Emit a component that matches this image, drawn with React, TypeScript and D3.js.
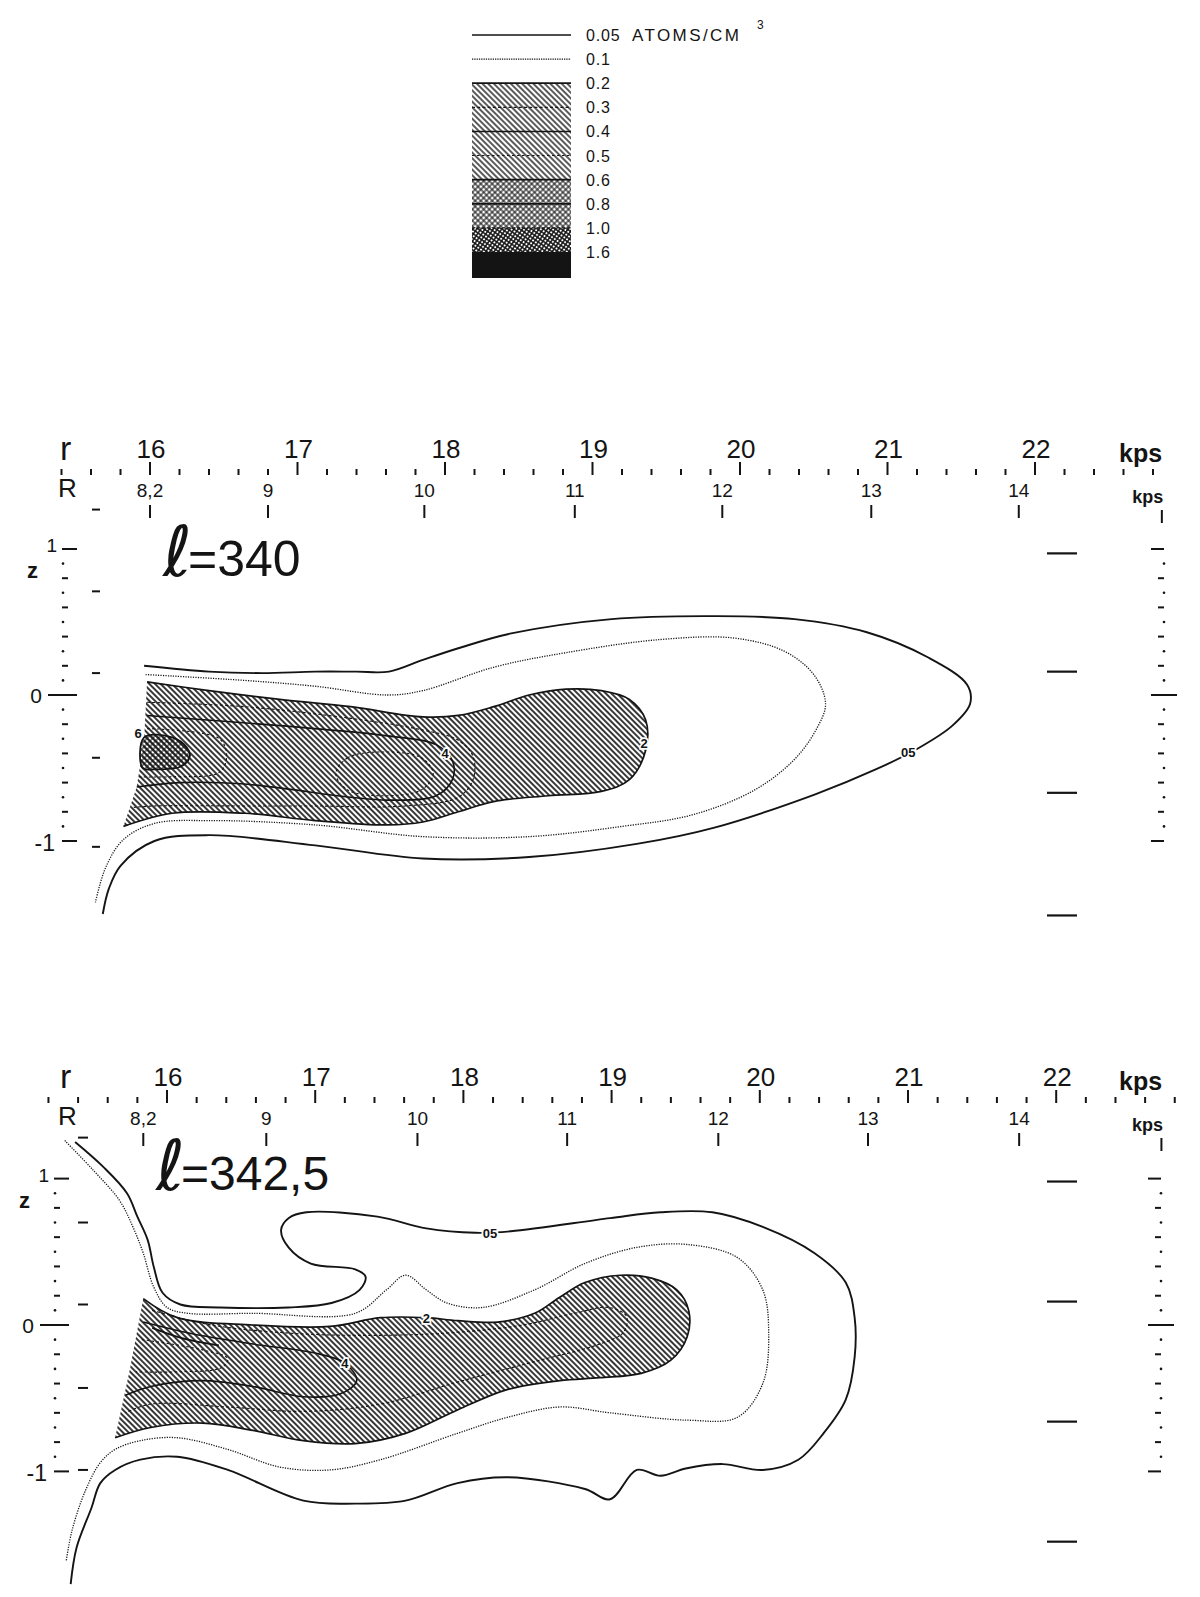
import * as d3 from "d3"

type Pt = [number, number]

// legend rows, atoms / cm3
const legendLevels = ["0.05", "0.1", "0.2", "0.3", "0.4", "0.5", "0.6", "0.8", "1.0", "1.6"]

// r scale (kpc) and the R scale labels, R positions read in r on each panel
const rMajorTicks = [16, 17, 18, 19, 20, 21, 22]
const RLabels = ["8,2", "9", "10", "11", "12", "13", "14"]
const RAt340 = [16.0, 16.8, 17.86, 18.88, 19.88, 20.89, 21.89]
const RAt3425 = [15.84, 16.67, 17.69, 18.7, 19.72, 20.73, 21.75]

// the odd tick columns at the sides, in z (kpc)
const zOuterLeft340 = [1.27, 0.71, 0.15, -0.43, -1.04]
const zOuterLeft3425 = [1.28, 0.7, 0.14, -0.43, -0.99]
const zRightMid340 = [0.97, 0.16, -0.67, -1.51]
const zRightMid3425 = [0.98, 0.16, -0.66, -1.48]

// ---- l = 340 contours, [r, z] ----
const outer340: Pt[] = [[15.96,0.2],[16.4,0.16],[16.76,0.15],[17.12,0.16],[17.4,0.16],[17.62,0.16],[17.85,0.24],[18.09,0.32],[18.44,0.42],[19.13,0.52],[19.82,0.54],[20.37,0.52],[20.86,0.43],[21.27,0.26],[21.54,0.07],[21.56,-0.06],[21.44,-0.21],[21.2,-0.37],[20.92,-0.51],[20.51,-0.68],[19.82,-0.91],[19.3,-1.02],[18.57,-1.11],[17.85,-1.12],[17.12,-1.03],[16.4,-0.96],[16.03,-1.0],[15.8,-1.17],[15.72,-1.33],[15.68,-1.5]]
const dotted340: Pt[] = [[15.97,0.14],[16.64,0.1],[17.12,0.06],[17.61,0.0],[17.85,0.03],[18.33,0.19],[18.82,0.29],[19.46,0.38],[19.96,0.39],[20.3,0.3],[20.5,0.14],[20.58,-0.06],[20.52,-0.23],[20.37,-0.44],[20.1,-0.65],[19.68,-0.82],[19.2,-0.9],[18.57,-0.97],[17.85,-0.97],[17.12,-0.89],[16.4,-0.86],[16.03,-0.88],[15.82,-0.99],[15.7,-1.18],[15.63,-1.42]]
const hatch340: Pt[] = [[15.98,0.09],[16.4,0.03],[16.88,-0.03],[17.36,-0.08],[17.85,-0.15],[18.09,-0.14],[18.33,-0.08],[18.57,0.0],[18.82,0.04],[19.06,0.03],[19.25,-0.03],[19.36,-0.17],[19.36,-0.38],[19.25,-0.58],[19.06,-0.66],[18.7,-0.69],[18.33,-0.73],[18.09,-0.8],[17.85,-0.87],[17.61,-0.89],[17.12,-0.86],[16.64,-0.81],[16.15,-0.81],[15.82,-0.9]]
const hatchEdge340: Pt[] = [[15.91,-0.63],[15.96,-0.31]]
const c03_340: Pt[] = [[15.98,-0.05],[16.64,-0.08],[17.36,-0.16],[17.85,-0.24],[18.09,-0.31],[18.19,-0.42],[18.19,-0.58],[18.09,-0.7],[17.73,-0.76],[17.1,-0.76],[16.64,-0.76],[16.03,-0.76],[15.89,-0.77]]
const c04_340: Pt[] = [[15.98,-0.14],[16.88,-0.21],[17.61,-0.28],[17.94,-0.34],[18.05,-0.45],[18.05,-0.58],[17.94,-0.69],[17.61,-0.72],[17.36,-0.7],[16.64,-0.61],[16.2,-0.6],[15.91,-0.63]]
const c05a_340: Pt[] = [[17.26,-0.54],[17.34,-0.43],[17.58,-0.39],[17.84,-0.43],[17.92,-0.54],[17.84,-0.65],[17.58,-0.69],[17.34,-0.65]]
const c05b_340: Pt[] = [[15.98,-0.23],[16.47,-0.3],[16.52,-0.42],[16.47,-0.53],[16.15,-0.56],[15.91,-0.56]]
const c06_340: Pt[] = [[15.96,-0.29],[16.15,-0.29],[16.25,-0.36],[16.27,-0.42],[16.21,-0.49],[16.03,-0.51],[15.95,-0.5]]
const labels340 = [
  { t: "6", r: 15.92, z: -0.26 },
  { t: "4", r: 18.0, z: -0.4 },
  { t: "2", r: 19.35, z: -0.33 },
  { t: "05", r: 21.14, z: -0.39 },
]

// ---- l = 342,5 contours ----
const outer3425: Pt[] = [[15.38,1.25],[15.57,1.08],[15.73,0.9],[15.8,0.74],[15.87,0.58],[15.91,0.4],[15.97,0.22],[16.09,0.14],[16.36,0.12],[16.82,0.12],[17.11,0.15],[17.3,0.24],[17.34,0.33],[17.27,0.38],[16.97,0.42],[16.82,0.53],[16.77,0.65],[16.82,0.73],[16.94,0.77],[17.42,0.74],[17.75,0.66],[18.08,0.63],[18.32,0.64],[18.99,0.73],[19.33,0.77],[19.68,0.77],[20.02,0.67],[20.37,0.49],[20.58,0.29],[20.64,0.05],[20.64,-0.22],[20.58,-0.51],[20.43,-0.74],[20.26,-0.92],[20.02,-0.99],[19.75,-0.95],[19.5,-0.98],[19.33,-1.03],[19.17,-0.99],[18.99,-1.19],[18.82,-1.12],[18.3,-1.04],[17.96,-1.08],[17.61,-1.2],[17.27,-1.22],[16.92,-1.2],[16.41,-0.99],[16.07,-0.9],[15.82,-0.92],[15.65,-0.99],[15.55,-1.08],[15.49,-1.25],[15.39,-1.52],[15.35,-1.77]]
const dotted3425: Pt[] = [[15.31,1.26],[15.5,1.06],[15.68,0.85],[15.77,0.67],[15.84,0.49],[15.91,0.26],[16.0,0.12],[16.14,0.08],[16.58,0.08],[17.27,0.08],[17.48,0.24],[17.61,0.34],[17.75,0.24],[17.89,0.15],[18.13,0.12],[18.48,0.24],[18.82,0.42],[19.17,0.53],[19.51,0.55],[19.85,0.46],[20.02,0.24],[20.06,-0.06],[20.02,-0.4],[19.85,-0.63],[19.51,-0.65],[18.99,-0.6],[18.65,-0.56],[18.3,-0.63],[17.96,-0.74],[17.44,-0.92],[17.1,-0.99],[16.76,-0.97],[16.41,-0.85],[16.07,-0.77],[15.82,-0.79],[15.65,-0.85],[15.55,-0.94],[15.45,-1.13],[15.36,-1.4],[15.32,-1.61]]
const hatch3425: Pt[] = [[15.84,0.18],[16.07,0.05],[16.58,0.0],[17.1,-0.01],[17.44,0.05],[17.75,0.05],[17.96,0.03],[18.23,0.02],[18.48,0.08],[18.65,0.19],[18.82,0.29],[19.06,0.34],[19.27,0.32],[19.44,0.24],[19.52,0.1],[19.51,-0.08],[19.4,-0.24],[19.2,-0.33],[18.92,-0.36],[18.65,-0.38],[18.3,-0.44],[17.96,-0.58],[17.61,-0.74],[17.27,-0.81],[16.92,-0.79],[16.58,-0.72],[16.24,-0.67],[15.89,-0.7],[15.65,-0.77]]
const hatchEdge3425: Pt[] = [[15.75,-0.3]]
const c03_3425: Pt[] = [[15.9,0.1],[16.3,0.0],[16.9,-0.06],[17.5,-0.07],[17.96,-0.05],[18.4,0.0],[18.75,0.08],[18.98,0.12],[19.1,0.06],[19.08,-0.05],[18.92,-0.13],[18.48,-0.25],[17.96,-0.39],[17.44,-0.54],[16.92,-0.59],[16.41,-0.56],[15.89,-0.54],[15.72,-0.6]]
const c04_3425: Pt[] = [[15.84,0.02],[16.17,-0.06],[16.58,-0.13],[16.99,-0.19],[17.2,-0.26],[17.28,-0.38],[17.17,-0.47],[16.92,-0.49],[16.58,-0.42],[16.24,-0.38],[15.89,-0.42],[15.72,-0.48]]
const c05_3425: Pt[] = [[15.83,-0.1],[16.24,-0.17],[16.41,-0.23],[16.37,-0.29],[16.07,-0.32],[15.79,-0.32]]
const c06_3425: Pt[] = [[15.9,-0.02],[16.1,-0.09],[16.35,-0.14]]
const labels3425 = [
  { t: "2", r: 17.75, z: 0.05 },
  { t: "4", r: 17.2, z: -0.26 },
  { t: "05", r: 18.18, z: 0.63 },
]

const ink = "#141414"
const font = "'Liberation Sans', Arial, sans-serif"

const lineStyle: Record<string, { w: number; dash?: string }> = {
  "0.05": { w: 1.9 },
  "0.1": { w: 1.3, dash: "1.2 1.3" },
  "0.2": { w: 1.7 },
  "0.3": { w: 1.1, dash: "3 2.2" },
  "0.4": { w: 1.6 },
  "0.5": { w: 1.1, dash: "2.5 2.5" },
  "0.6": { w: 1.8 },
  "0.8": { w: 1.8 },
  "1.0": { w: 1.1, dash: "3 2" },
}

const panel340 = {
  title: "=340", titleX: 163, titleY: 576, titleSize: 50,
  x16: 150, kx: 147.5, y0: 695, kz: 146, axisY: 475,
  zColX: 63, outerX: 92, outerW: 8, rightColX: 1164, minorFrom: 15.4,
  RAt: RAt340, RUnit: 22.86, outerLeft: zOuterLeft340, rightMid: zRightMid340,
  outer: outer340, dotted: dotted340, hatch: hatch340, hatchEdge: hatchEdge340,
  inner: [
    { pts: c06_340, level: "0.6", closed: true, fill: "url(#cross)" },
    { pts: c03_340, level: "0.3" },
    { pts: c04_340, level: "0.4" },
    { pts: c05a_340, level: "0.5", closed: true },
    { pts: c05b_340, level: "0.5" },
  ],
  labels: labels340,
}

const panel3425 = {
  title: "=342,5", titleX: 156, titleY: 1190, titleSize: 48,
  x16: 167, kx: 148.2, y0: 1325, kz: 146.4, axisY: 1103,
  zColX: 55, outerX: 78, outerW: 10, rightColX: 1161, minorFrom: 15.2,
  RAt: RAt3425, RUnit: 22.71, outerLeft: zOuterLeft3425, rightMid: zRightMid3425,
  outer: outer3425, dotted: dotted3425, hatch: hatch3425, hatchEdge: hatchEdge3425,
  inner: [
    { pts: c03_3425, level: "0.3" },
    { pts: c04_3425, level: "0.4" },
    { pts: c05_3425, level: "0.5" },
    { pts: c06_3425, level: "0.6" },
  ],
  labels: labels3425,
}

type PanelCfg = typeof panel340

function Legend() {
  const y = d3.scalePoint<string>().domain(legendLevels).range([35, 252])
  const x0 = 472, x1 = 571
  const bands = [
    { from: "0.2", to: "0.6", fill: "url(#hatchL)" },
    { from: "0.6", to: "1.0", fill: "url(#cross)" },
    { from: "1.0", to: "1.6", fill: "url(#crossDark)" },
  ]
  const bottom = (y("1.6") as number) + 26
  return (
    <g>
      <line x1={x0} x2={x1} y1={y("0.05")} y2={y("0.05")} stroke={ink} strokeWidth={1.3} />
      <line x1={x0} x2={x1} y1={y("0.1")} y2={y("0.1")} stroke={ink} strokeWidth={1.3} strokeDasharray="1.3 1" />
      {bands.map(b => (
        <rect key={b.from} x={x0} width={x1 - x0} y={y(b.from)} height={(y(b.to) as number) - (y(b.from) as number)} fill={b.fill} />
      ))}
      <rect x={x0} width={x1 - x0} y={y("1.6")} height={bottom - (y("1.6") as number)} fill={ink} />
      {legendLevels.slice(2, 9).map(l => (
        <line key={l} x1={x0} x2={x1} y1={y(l)} y2={y(l)} stroke={ink}
          strokeWidth={lineStyle[l].w} strokeDasharray={lineStyle[l].dash} />
      ))}
      {legendLevels.map(l => (
        <text key={l} x={586} y={(y(l) as number) + 6} fontSize={16} letterSpacing={0.8} fill={ink}>{l}</text>
      ))}
      <text x={632} y={(y("0.05") as number) + 6} fontSize={17} letterSpacing={2.4} fill={ink}>ATOMS/CM</text>
      <text x={757} y={29} fontSize={12} fill={ink}>3</text>
    </g>
  )
}

function Panel({ p }: { p: PanelCfg }) {
  const x = d3.scaleLinear().domain([16, 22]).range([p.x16, p.x16 + 6 * p.kx])
  const y = d3.scaleLinear().domain([-1, 1]).range([p.y0 + p.kz, p.y0 - p.kz])
  const open = d3.line<Pt>().x(d => x(d[0])).y(d => y(d[1])).curve(d3.curveCatmullRom.alpha(0.5))
  const closed = d3.line<Pt>().x(d => x(d[0])).y(d => y(d[1])).curve(d3.curveCatmullRomClosed.alpha(0.5))
  const hatchFill = open(p.hatch) + p.hatchEdge.map(d => `L${x(d[0])},${y(d[1])}`).join("") + "Z"

  const ay = p.axisY
  const minor = d3.range(p.minorFrom, 22.81, 0.2).filter(v => Math.abs(v - Math.round(v)) > 0.05)
  const zTicks = d3.range(-10, 11).map(i => i / 10)
  const c = p.zColX
  const rc = p.rightColX

  return (
    <g fill={ink}>
      {/* r scale */}
      {minor.map(v => <line key={v} x1={x(v)} x2={x(v)} y1={ay - 6} y2={ay} stroke={ink} strokeWidth={2} />)}
      {rMajorTicks.map(v => (
        <g key={v}>
          <line x1={x(v)} x2={x(v)} y1={ay - 13} y2={ay} stroke={ink} strokeWidth={2} />
          <text x={x(v) + 1} y={ay - 17} fontSize={26} textAnchor="middle">{v}</text>
        </g>
      ))}
      <text x={60} y={ay - 15} fontSize={34}>r</text>
      <text x={1119} y={ay - 13} fontSize={25} fontWeight="bold">kps</text>

      {/* R scale */}
      <text x={58} y={ay + 22} fontSize={26}>R</text>
      {p.RAt.map((v, i) => (
        <g key={v}>
          <text x={x(v)} y={ay + 22} fontSize={19} textAnchor="middle">{RLabels[i]}</text>
          <line x1={x(v)} x2={x(v)} y1={ay + 30} y2={ay + 43} stroke={ink} strokeWidth={2} />
        </g>
      ))}
      <text x={x(p.RUnit) - 14} y={ay + 28} fontSize={18} textAnchor="middle" fontWeight="bold">kps</text>
      <line x1={x(p.RUnit)} x2={x(p.RUnit)} y1={ay + 35} y2={ay + 48} stroke={ink} strokeWidth={2} />

      {/* z columns */}
      {zTicks.map(z => {
        const yy = y(z)
        const k = Math.round(z * 10)
        if (k === 0) return (
          <g key={z}>
            <line x1={c - 15} x2={c + 14} y1={yy} y2={yy} stroke={ink} strokeWidth={2} />
            <line x1={rc - 13} x2={rc + 13} y1={yy} y2={yy} stroke={ink} strokeWidth={2} />
          </g>
        )
        if (Math.abs(k) === 10) return (
          <g key={z}>
            <line x1={c - 1} x2={c + 14} y1={yy} y2={yy} stroke={ink} strokeWidth={2} />
            <line x1={rc - 13} x2={rc} y1={yy} y2={yy} stroke={ink} strokeWidth={2} />
          </g>
        )
        if (k % 2 === 0) return (
          <g key={z}>
            <line x1={c - 1} x2={c + 5} y1={yy} y2={yy} stroke={ink} strokeWidth={2} />
            <line x1={rc - 6} x2={rc} y1={yy} y2={yy} stroke={ink} strokeWidth={2} />
          </g>
        )
        return (
          <g key={z}>
            <circle cx={c} cy={yy} r={1.3} />
            <circle cx={rc} cy={yy} r={1.3} />
          </g>
        )
      })}
      <text x={c - 6} y={y(1) + 3} fontSize={19} textAnchor="end">1</text>
      <text x={c - 21} y={y(0) + 8} fontSize={21} textAnchor="end">0</text>
      <text x={c - 8} y={y(-1) + 10} fontSize={23} textAnchor="end">-1</text>
      <text x={c - 36} y={y(1) + 29} fontSize={22} fontWeight="bold">z</text>
      {p.outerLeft.map(z => (
        <line key={z} x1={p.outerX} x2={p.outerX + p.outerW} y1={y(z)} y2={y(z)} stroke={ink} strokeWidth={2} />
      ))}
      {p.rightMid.map(z => (
        <line key={z} x1={1047} x2={1077} y1={y(z)} y2={y(z)} stroke={ink} strokeWidth={2.2} />
      ))}

      {/* title */}
      <text x={p.titleX} y={p.titleY} fontSize={70} fontFamily="'DejaVu Sans', sans-serif">ℓ</text>
      <text x={p.titleX + 25} y={p.titleY} fontSize={p.titleSize}>{p.title}</text>

      {/* contours */}
      <path d={hatchFill} fill="url(#hatch)" stroke="none" />
      {p.inner.map((s, i) => (
        <path key={i} d={(s.closed ? closed : open)(s.pts) as string} fill={s.fill ?? "none"} stroke={ink}
          strokeWidth={lineStyle[s.level].w} strokeDasharray={lineStyle[s.level].dash} />
      ))}
      <path d={open(p.hatch) as string} fill="none" stroke={ink} strokeWidth={lineStyle["0.2"].w} />
      <path d={open(p.dotted) as string} fill="none" stroke={ink} strokeWidth={lineStyle["0.1"].w} strokeDasharray={lineStyle["0.1"].dash} />
      <path d={open(p.outer) as string} fill="none" stroke={ink} strokeWidth={lineStyle["0.05"].w} />
      {p.labels.map(l => (
        <text key={l.t} x={x(l.r)} y={y(l.z) + 5} fontSize={13} fontWeight="bold" textAnchor="middle"
          stroke="#fff" strokeWidth={3.5} paintOrder="stroke" fill={ink}>{l.t}</text>
      ))}
    </g>
  )
}

export default function App() {
  return (
    <svg width={1200} height={1597} viewBox="0 0 1200 1597" fontFamily={font}
      style={{ position: "absolute", left: 0, top: 0, display: "block", background: "#fff" }}>
      <defs>
        <pattern id="hatch" width={4} height={4} patternUnits="userSpaceOnUse" patternTransform="rotate(-45)">
          <line x1={2} x2={2} y1={0} y2={4} stroke={ink} strokeWidth={1.7} />
        </pattern>
        <pattern id="hatchL" width={4} height={4} patternUnits="userSpaceOnUse" patternTransform="rotate(-45)">
          <line x1={2} x2={2} y1={0} y2={4} stroke={ink} strokeWidth={1.4} />
        </pattern>
        <pattern id="cross" width={4} height={4} patternUnits="userSpaceOnUse" patternTransform="rotate(45)">
          <line x1={2} x2={2} y1={0} y2={4} stroke={ink} strokeWidth={1.1} />
          <line x1={0} x2={4} y1={2} y2={2} stroke={ink} strokeWidth={1.1} />
        </pattern>
        <pattern id="crossDark" width={3.4} height={3.4} patternUnits="userSpaceOnUse" patternTransform="rotate(35)">
          <line x1={1.7} x2={1.7} y1={0} y2={3.4} stroke={ink} strokeWidth={1.5} />
          <line x1={0} x2={3.4} y1={1.7} y2={1.7} stroke={ink} strokeWidth={1.5} />
        </pattern>
      </defs>
      <rect width={1200} height={1597} fill="#fff" />
      <Legend />
      <Panel p={panel340} />
      <Panel p={panel3425} />
    </svg>
  )
}
